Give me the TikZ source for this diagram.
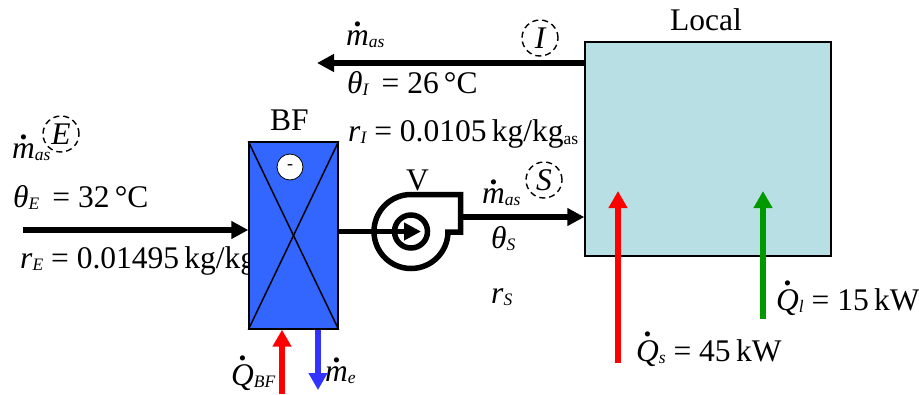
\documentclass[tikz,border=0pt]{standalone}
\definecolor{coilBlue}{RGB}{51,102,255}
\definecolor{roomCyan}{RGB}{184,224,228}
\definecolor{coldBlue}{RGB}{51,51,255}
\definecolor{latentGreen}{RGB}{0,153,0}
\usepackage{amsmath}
\usepackage{fontspec}
\setmainfont{Liberation Serif}
\DeclareMathSizes{31.5}{31.5}{17.5}{12}
\usepackage{tikz}
\usetikzlibrary{arrows.meta,positioning,calc}
\newcommand{\hatdot}[1]{\overset{\raisebox{-2pt}{\textbf{.}}}{\textit{#1}}}
\newcommand{\low}[1]{\raisebox{-2pt}{$\scriptstyle\textit{#1}$}}
\newcommand{\mas}{$\hatdot{m}$\low{as}}
\tikzset{
  lbl/.style={anchor=base west, inner sep=0pt, font=\fontsize{31.5}{38}\selectfont},
  flow/.style={line width=5.5pt, -{Triangle[length=17pt,width=17pt]}},
  heat/.style={line width=6pt, -{Triangle[length=17pt,width=18pt]}},
  station/.style={draw, circle, dash pattern=on 6pt off 4pt, line width=1.4pt, minimum size=36pt, inner sep=0pt, font=\fontsize{31.5}{38}\selectfont\itshape}
}

\begin{document}
\begin{tikzpicture}[x=1pt,y=-1pt]
  \useasboundingbox (0,0) rectangle (919,394);
  % labels
  \node[lbl] (mE) at (12,158) {\mas};
  \node[lbl] (thE) at (13,207) {\textit{θ}\low{E}\, = 32\,°C};
  \node[lbl] (rE) at (20,268) {\textit{r}\low{E} = 0.01495\,kg/kg$_{\text{as}}$};
  \node[lbl] (mI) at (346,45) {\mas};
  \node[lbl] (thI) at (347,93) {\textit{θ}\low{I}\, = 26\,°C};
  \node[lbl] (rI) at (348,141) {\textit{r}\low{I} = 0.0105\,kg/kg$_{\text{as}}$};
  \node[lbl] (mS) at (482,203) {\mas};
  \node[lbl] (thS) at (491,248) {\textit{θ}\low{S}};
  \node[lbl] (rS) at (491,303) {\textit{r}\low{S}};
  \node[lbl] (lblV) at (406,190) {V};
  \node[lbl] (lblBF) at (270,130) {BF};
  \node[lbl] (lblLocal) at (670,30) {Local};
  \node[lbl] (lblQbf) at (231,385) {$\hatdot{Q}$\low{BF}};
  \node[lbl] (lblMe) at (325,381) {$\hatdot{m}$\low{e}};
  \node[lbl] (lblQs) at (636,361) {$\hatdot{Q}$\low{s} = 45\,kW};
  \node[lbl] (lblQl) at (776,310) {$\hatdot{Q}$\low{l} = 15\,kW};
  \node[station] (stE) at (61,134) {E};
  \node[station] (stI) at (540,38) {I};
  \node[station] (stS) at (544,180) {S};
  % coil
  \node[draw, fill=coilBlue, line width=1.4pt, minimum width=89pt, minimum height=187pt, inner sep=0pt] (BF) at (293.5,235.5) {};
  \draw[line width=1.5pt] (BF.north west) -- (BF.south east);
  \draw[line width=1.5pt] (BF.north east) -- (BF.south west);
  \node[draw, circle, fill=white, line width=0.8pt, minimum size=26pt, inner sep=0pt, font=\fontsize{18}{18}\selectfont] (sign) at (290,167) {-};
  % room
  \node[draw, fill=roomCyan, line width=1.4pt, minimum width=246pt, minimum height=214pt, inner sep=0pt] (Local) at (708,149) {};
  % fan
  \node[draw, circle, line width=5.5pt, minimum size=33pt, inner sep=0pt] (fan) at (411,231.5) {};
  \draw[line width=5.5pt, line join=miter] (448,231.5) arc[start angle=0, end angle=-270, radius=37pt] -- (460.5,194.5) -- (460.5,232) -- (445,232);
  \coordinate (fanTip) at (421,231.5);
  \coordinate (inE) at (23,230);
  \coordinate (fanOut) at (463,217);
  \coordinate (inI) at (317,63);
  \coordinate (qbfTail) at (282,394);
  \coordinate (meTip) at (318,390);
  \coordinate (qsTail) at (618,363);
  \coordinate (qsTip) at (618,191);
  \coordinate (qlTail) at (763,319);
  \coordinate (qlTip) at (763,191);
  % air flows
  \draw[flow] (inE) -- (inE -| BF.west);
  \draw[flow] (fanTip -| BF.east) -- (fanTip);
  \draw[flow] (fanOut) -- (fanOut -| Local.west);
  \draw[flow] (inI -| Local.west) -- (inI);
  % heat flows
  \draw[heat, red] (qbfTail) -- (qbfTail |- BF.south);
  \draw[heat, coldBlue] (meTip |- BF.south) -- (meTip);
  \draw[heat, red] (qsTail) -- (qsTip);
  \draw[heat, latentGreen] (qlTail) -- (qlTip);
\end{tikzpicture}
\end{document}
